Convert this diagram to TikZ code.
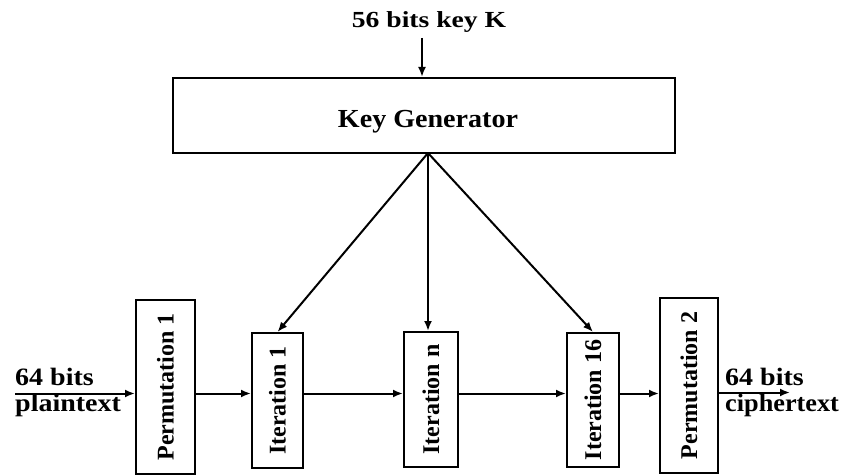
\documentclass[tikz,border=0pt]{standalone}
\usepackage{fontspec}
\setmainfont{Liberation Serif}
\usetikzlibrary{arrows.meta}
\begin{document}
\begin{tikzpicture}[x=1pt,y=-1pt,
  block/.style={draw,line width=2pt,inner sep=0pt,rectangle},
  flow/.style={line width=2pt,-{Latex[length=10pt,width=8pt]}},
  vlabel/.style={rotate=90,font=\bfseries\fontsize{24}{26}\selectfont},
  sidelabel/.style={anchor=base west,inner sep=0pt,font=\bfseries\fontsize{25}{27}\selectfont}]
\useasboundingbox (0,0) rectangle (844,476);

% key input and generator
\node[anchor=base,inner sep=0pt,font=\bfseries\fontsize{23}{25}\selectfont] (keyin) at (429,28) {\scalebox{1.2}[1]{56 bits key K}};
\node[block,minimum width=502pt,minimum height=75pt] (keygen) at (424,115.5) {};
\node[anchor=base,inner sep=0pt,font=\bfseries\fontsize{26}{28}\selectfont] (kgtext) at (428,128) {\scalebox{1.08}[1]{Key Generator}};
\draw[flow] (422,38) -- (keygen.north -| 422,0);

% processing chain
\node[block,minimum width=59pt,minimum height=174pt] (perm1) at (165.5,387) {};
\node[vlabel] at (perm1.center) {Permutation 1};
\node[block,minimum width=51pt,minimum height=135pt] (iter1) at (277.5,400.5) {};
\node[vlabel] at (iter1.center) {Iteration 1};
\node[block,minimum width=54pt,minimum height=135pt] (itern) at (431,399.5) {};
\node[vlabel] at (itern.center) {Iteration n};
\node[block,minimum width=52pt,minimum height=134pt] (iter16) at (593,400) {};
\node[vlabel] at (iter16.center) {Iteration 16};
\node[block,minimum width=58pt,minimum height=175pt] (perm2) at (689,385.5) {};
\node[vlabel] at (perm2.center) {Permutation 2};

% data path
\coordinate (inp) at (15,393.5);
\coordinate (outp) at (790,392.5);
\draw[flow] (inp) -- (inp -| perm1.west);
\draw[flow] (perm1.east |- 0,393.5) -- (iter1.west |- 0,393.5);
\draw[flow] (iter1.east |- 0,393.5) -- (itern.west |- 0,393.5);
\draw[flow] (itern.east |- 0,393.5) -- (iter16.west |- 0,393.5);
\draw[flow] (iter16.east |- 0,393.5) -- (perm2.west |- 0,393.5);
\draw[flow] (perm2.east |- outp) -- (outp);

% side labels
\node[sidelabel] (plain1) at (15,385) {\scalebox{1.12}[1]{64 bits}};
\node[sidelabel] (plain2) at (15,411) {\scalebox{1.12}[1]{plaintext}};
\node[sidelabel] (ciph1) at (725,385) {\scalebox{1.12}[1]{64 bits}};
\node[sidelabel] (ciph2) at (725,411) {\scalebox{1.05}[1]{ciphertext}};

% subkey distribution
\coordinate (fan) at (428,153);
\draw[flow] (fan) -- (iter1.north);
\draw[flow] (fan) -- (itern.north -| fan);
\draw[flow] (fan) -- (iter16.north);
\end{tikzpicture}
\end{document}
